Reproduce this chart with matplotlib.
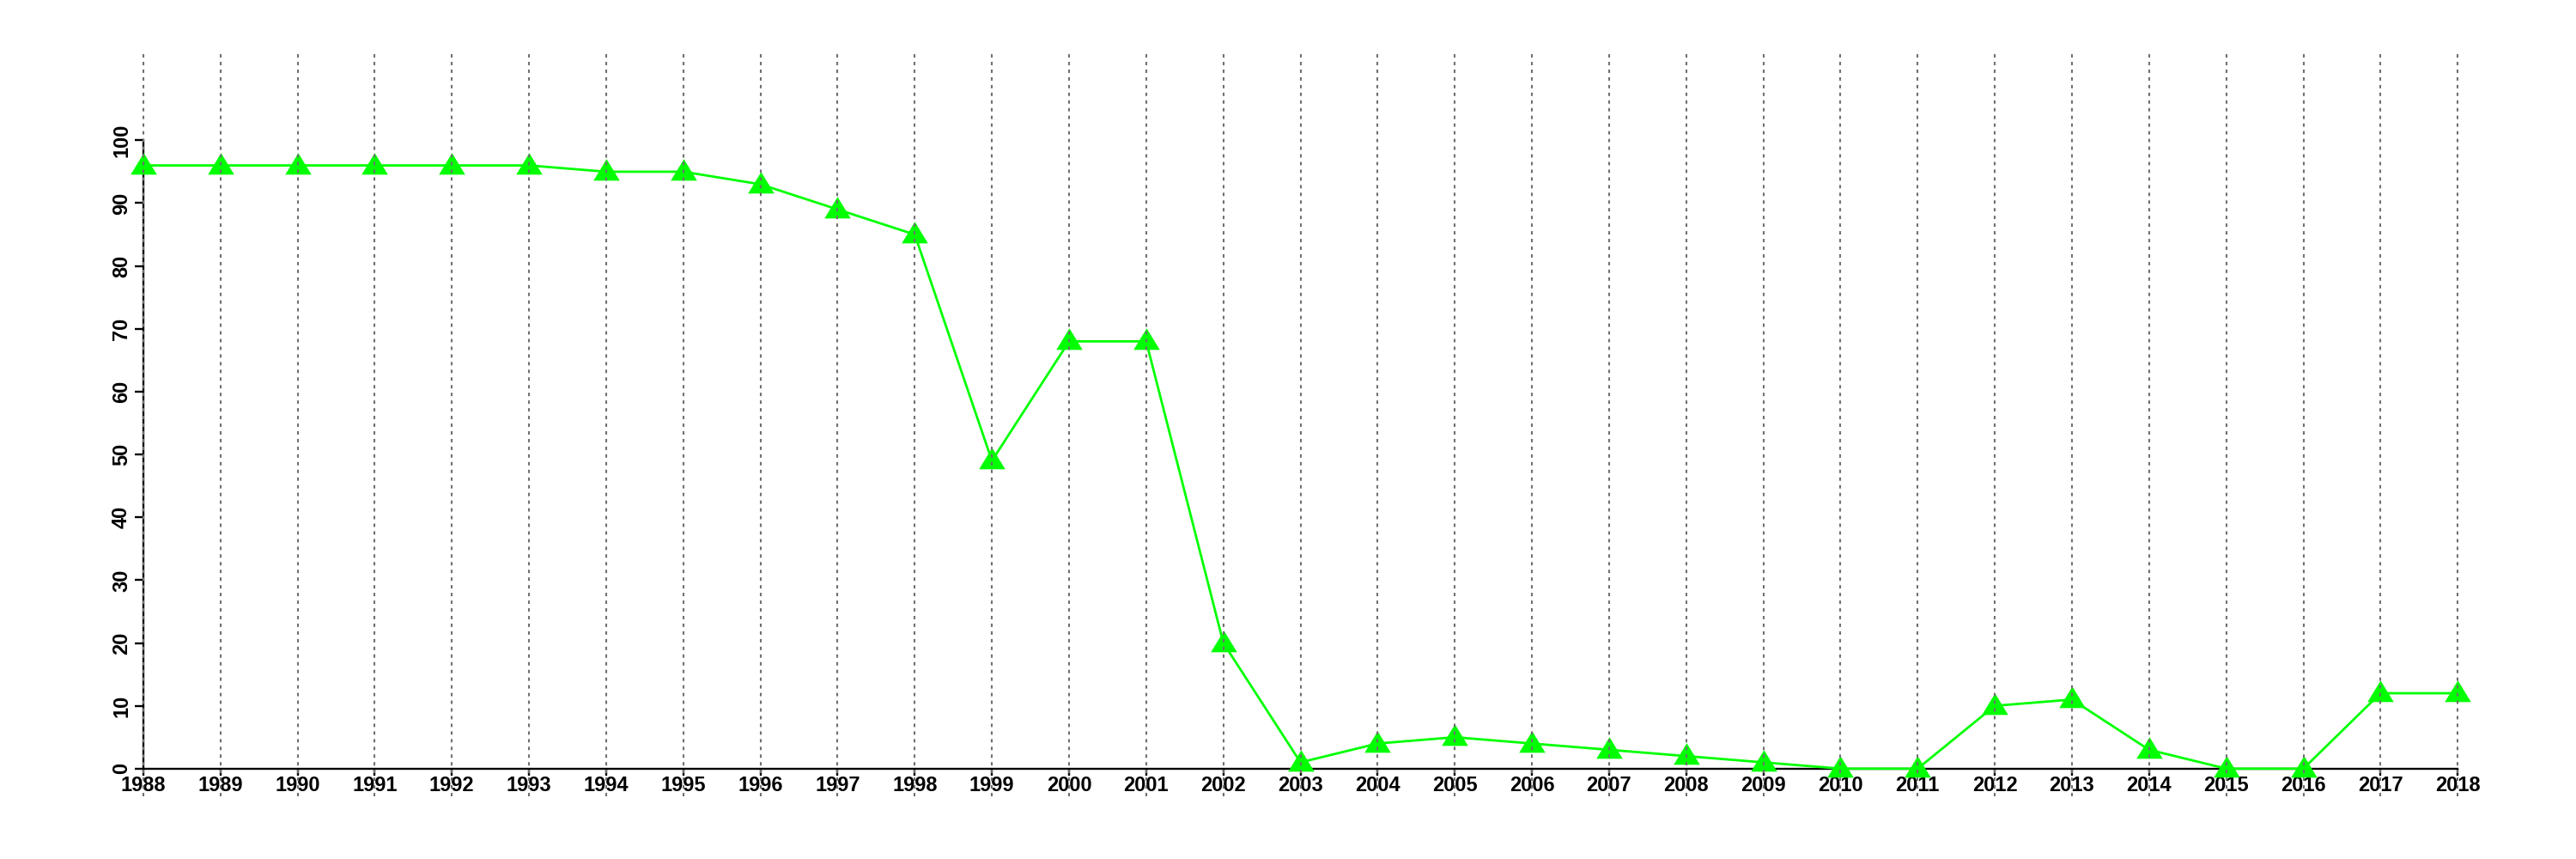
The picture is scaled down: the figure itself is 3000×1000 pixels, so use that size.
import matplotlib
matplotlib.use("Agg")
import matplotlib.pyplot as plt
import numpy as np

# data
years = list(range(1988, 2019))
values = [96, 96, 96, 96, 96, 96, 95, 95, 93, 89, 85, 49, 68, 68, 20, 1,
          4, 5, 4, 3, 2, 1, 0, 0, 10, 11, 3, 0, 0, 12, 12]
yticks = list(range(0, 101, 10))

plt.rcParams['font.family'] = ['Liberation Sans', 'DejaVu Sans']

fig = plt.figure(figsize=(30, 10), dpi=100)
ax = fig.add_axes([0.0197, 0.073, 0.9703, 0.869])

# R-like filled triangle (pch 17)
tri = [(0, 14), (-14, -9), (14, -9), (0, 14)]

ax.plot(years, values, color='#00ff00', lw=2.0, marker=tri, markersize=22,
        markeredgewidth=0, zorder=3)

# dotted verticals at every year, drawn over everything
for yr in years:
    ax.axvline(yr, color='#707070', ls=(0, (1.9, 2.4)), lw=1.5, zorder=6)

ax.set_xlim(1986.8, 2019.2)
ax.set_ylim(-4.4, 114.4)

for s in ['top', 'right']:
    ax.spines[s].set_visible(False)
ax.spines['left'].set_position(('data', 1988))
ax.spines['bottom'].set_position(('data', 0))
ax.spines['left'].set_bounds(0, 100)
ax.spines['bottom'].set_bounds(1988, 2018)
ax.spines['left'].set_linewidth(1.7)
ax.spines['bottom'].set_linewidth(1.7)

ax.set_xticks(years)
ax.set_xticklabels([str(y) for y in years], fontsize=17, fontweight='bold')
ax.set_yticks(yticks)
ax.set_yticklabels([str(v) for v in yticks], fontsize=17, fontweight='bold',
                   rotation=90, va='center')
ax.tick_params(axis='x', length=6, width=1.7, pad=0)
ax.tick_params(axis='y', length=7, width=1.7, pad=3)

fig.savefig('out.png', dpi=100)
